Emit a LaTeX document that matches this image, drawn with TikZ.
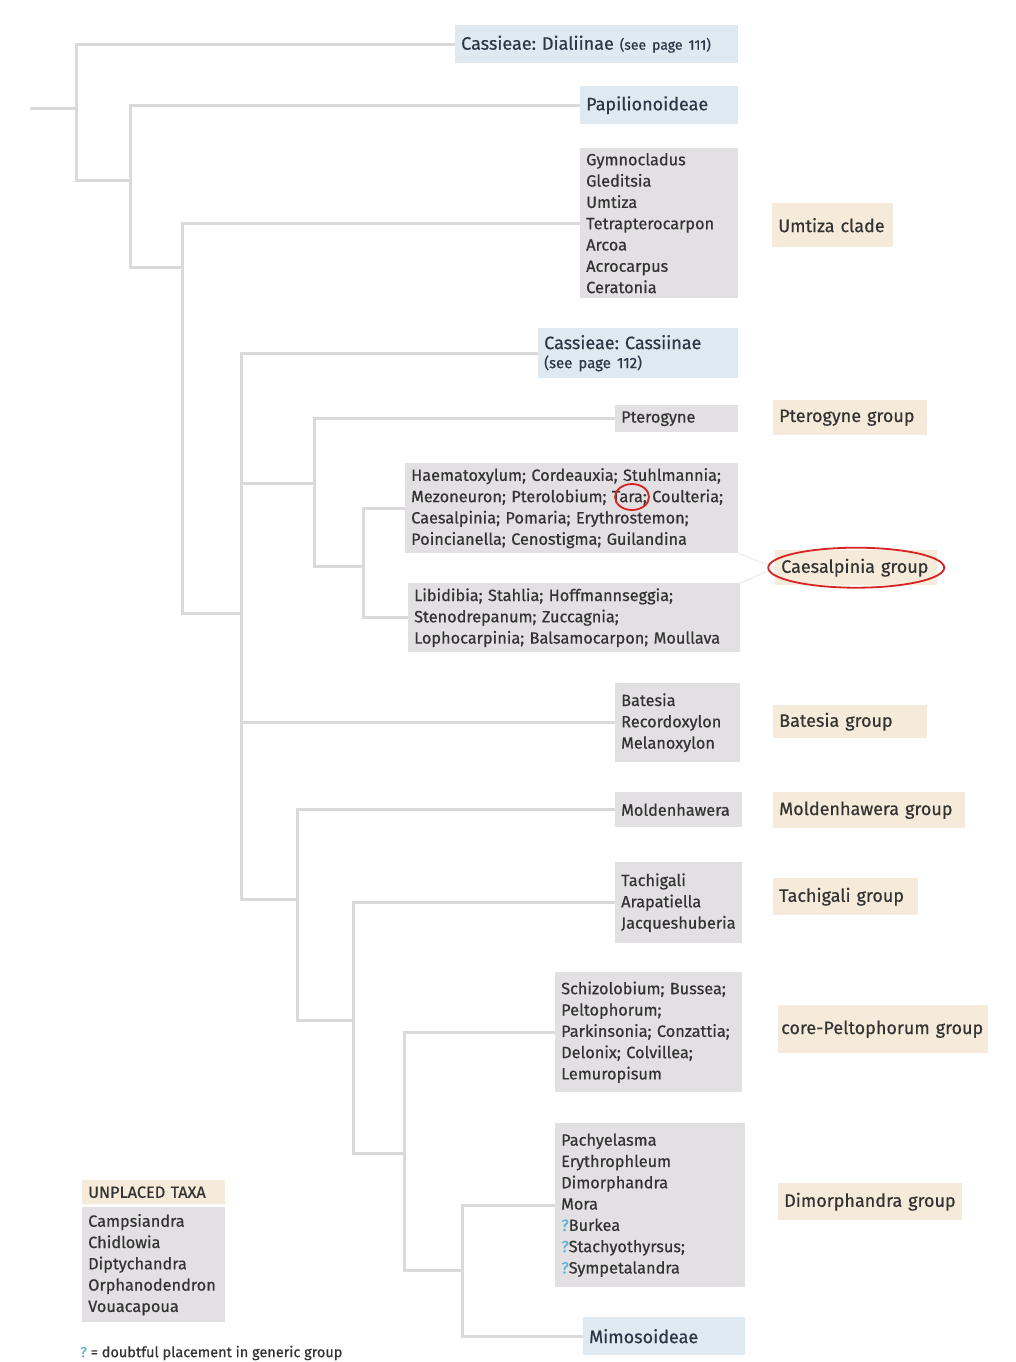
\documentclass[tikz,border=0pt]{standalone}
\usepackage{fontspec}
\usetikzlibrary{calc}
\setmainfont[FakeBold=0.5]{Fira Sans}
\frenchspacing
\definecolor{taxgray}{HTML}{E2E0E2}
\definecolor{subblue}{HTML}{DEE9F2}
\definecolor{grpbeige}{HTML}{F6EBDA}
\definecolor{branchgray}{HTML}{DADADA}
\definecolor{inkgray}{HTML}{333333}
\definecolor{inkblue}{HTML}{2A3846}
\definecolor{markred}{HTML}{D82323}
\definecolor{qblue}{HTML}{5BB3D8}
\newcommand{\taxfont}{\fontsize{16.3}{21.3}\selectfont}
\newcommand{\grpfont}{\fontsize{18}{22}\selectfont}
\newcommand{\q}{\textcolor{qblue}{?}}
\tikzset{
  box/.style={anchor=north west, inner xsep=6pt, inner ysep=0pt, align=left},
  taxa/.style={box, fill=taxgray, text=inkgray, font=\taxfont},
  sub/.style={box, fill=subblue, text=inkblue, font=\grpfont},
  grp/.style={box, fill=grpbeige, text=inkgray, font=\grpfont},
  branch/.style={draw=branchgray, line width=3pt},
  redmark/.style={draw=markred, line width=1.8pt}
}
\begin{document}
\begin{tikzpicture}[x=1pt, y=-1pt]
    \useasboundingbox[fill=white] (0,0) rectangle (1016,1362);
    \node[sub, text width=271pt, minimum height=38pt] (dial) at (455,25)
        {Cassieae: Dialiinae {\fontsize{14}{16}\selectfont(see page 111)}};
    \node[sub, text width=146pt, minimum height=38pt] (papil) at (580,86) {Papilionoideae};
    \node[taxa, text width=146pt, minimum height=150pt] (umtiza) at (580,148)
        {Gymnocladus\\Gleditsia\\Umtiza\\Tetrapterocarpon\\Arcoa\\Acrocarpus\\Ceratonia};
    \node[grp, text width=109pt, minimum height=44pt] (umtizagrp) at (772,203) {Umtiza clade};
    \node[sub, text width=188pt, minimum height=50pt] (cass) at (538,328)
        {Cassieae: Cassiinae\\[-3pt]{\fontsize{15}{16}\selectfont(see page 112)}};
    \node[taxa, text width=111pt, minimum height=27pt] (pterog) at (615,405) {Pterogyne};
    \node[grp, text width=142pt, minimum height=35pt] (pteroggrp) at (773,400) {Pterogyne group};
    \node[taxa, text width=321pt, minimum height=90pt] (haem) at (405,463)
        {Haematoxylum; Cordeauxia; Stuhlmannia;\\Mezoneuron; Pterolobium; Tara; Coulteria;\\
         Caesalpinia; Pomaria; Erythrostemon;\\Poincianella; Cenostigma; Guilandina};
    \node[taxa, text width=320pt, minimum height=69pt] (libid) at (408,583)
        {Libidibia; Stahlia; Hoffmannseggia;\\Stenodrepanum; Zuccagnia;\\
         Lophocarpinia; Balsamocarpon; Moullava};
    \node[grp, text width=150pt, minimum height=35pt] (caesgrp) at (775,550) {Caesalpinia group};
    \node[taxa, text width=113pt, minimum height=79pt] (batesia) at (615,683)
        {Batesia\\Recordoxylon\\Melanoxylon};
    \node[grp, text width=142pt, minimum height=33pt] (batesiagrp) at (773,705) {Batesia group};
    \node[taxa, text width=115pt, minimum height=35pt] (molden) at (615,792) {Moldenhawera};
    \node[grp, text width=180pt, minimum height=36pt] (moldengrp) at (773,792) {Moldenhawera group};
    \node[taxa, text width=115pt, minimum height=81pt] (tachi) at (615,862)
        {Tachigali\\Arapatiella\\Jacqueshuberia};
    \node[grp, text width=133pt, minimum height=37pt] (tachigrp) at (773,878) {Tachigali group};
    \node[taxa, text width=175pt, minimum height=120pt] (schizo) at (555,972)
        {Schizolobium; Bussea;\\Peltophorum;\\Parkinsonia; Conzattia;\\Delonix; Colvillea;\\Lemuropisum};
    \node[grp, inner xsep=3pt, text width=204pt, minimum height=48pt] (coregrp) at (778,1005)
        {\mbox{core-Peltophorum group}};
    \node[taxa, text width=178pt, minimum height=164pt] (pachy) at (555,1123)
        {Pachyelasma\\Erythrophleum\\Dimorphandra\\Mora\\\q Burkea\\\q Stachyothyrsus;\\\q Sympetalandra};
    \node[grp, text width=172pt, minimum height=37pt] (dimorgrp) at (778,1183) {Dimorphandra group};
    \node[sub, text width=150pt, minimum height=38pt] (mimo) at (583,1317) {Mimosoideae};
    \node[grp, font=\taxfont, text width=131pt, minimum height=24pt] (unplhead) at (82,1180) {UNPLACED TAXA};
    \node[taxa, text width=131pt, minimum height=115pt] (unpl) at (82,1207)
        {Campsiandra\\Chidlowia\\Diptychandra\\Orphanodendron\\Vouacapoua};
    \node[anchor=west, inner sep=0pt, text=inkgray, font=\fontsize{14.5}{16}\selectfont] (note) at (80,1353)
        {\q{} = doubtful placement in generic group};
    \coordinate (n1) at (76,109);
    \coordinate (n2) at (130,180);
    \coordinate (n3) at (182,267);
    \coordinate (n4) at (241,613);
    \coordinate (n5) at (314,483);
    \coordinate (n6) at (363,566);
    \coordinate (n7) at (297,899);
    \coordinate (n8) at (353,1020);
    \coordinate (n9) at (404,1153);
    \coordinate (n10) at (462,1270);
    \draw[branch] (n1) -- ++(-46,0);
    \draw[branch] (dial.west) -| (n1) |- (n2);
    \draw[branch] (papil.west) -| (n2) |- (n3);
    \draw[branch] (umtiza.west) -| (n3) |- (n4);
    \draw[branch] (cass.west) -| (n4) |- (n7);
    \draw[branch] (n4 |- n5) -- (n5);
    \draw[branch] (n4 |- batesia.west) -- (batesia.west);
    \draw[branch] (pterog.west) -| (n5) |- (n6);
    \draw[branch] (haem.west) -| (n6) |- (libid.west);
    \draw[branch] (molden.west) -| (n7) |- (n8);
    \draw[branch] (tachi.west) -| (n8) |- (n9);
    \draw[branch] (schizo.west) -| (n9) |- (n10);
    \draw[branch] (pachy.west) -| (n10) |- (mimo.west);
    \draw[draw=branchgray!60, line width=1pt] (haem.south east) -- (caesgrp.west) -- (libid.north east);
    \draw[redmark] (caesgrp.center) ellipse [x radius=88, y radius=20];
    \draw[redmark] ($(haem.north west)+(227,34)$) ellipse [x radius=17, y radius=13];
\end{tikzpicture}
\end{document}
